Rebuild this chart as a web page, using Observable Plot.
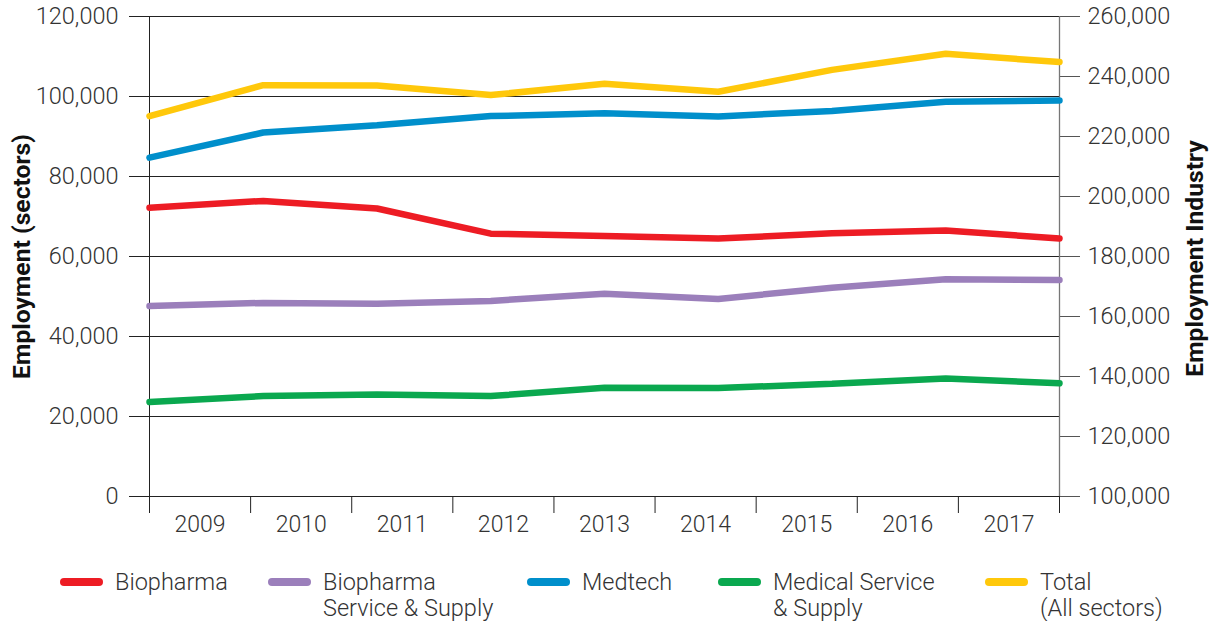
<!DOCTYPE html>
<html>
<head>
<meta charset="utf-8">
<script src="https://cdn.jsdelivr.net/npm/d3@7"></script>
<script src="https://cdn.jsdelivr.net/npm/@observablehq/plot@0.6"></script>
<style>
  body { margin: 0; background: #fff; font-family: Roboto, "Liberation Sans", sans-serif; }
  #chart { position: relative; width: 1212px; }
  #legend { position: relative; width: 1212px; height: 81px; }
  .item { position: absolute; top: 29px; display: flex; align-items: flex-start; }
  .sw { width: 43px; height: 8px; border-radius: 4px; margin-top: 9px; margin-right: 12px; }
  .lab { font-size: 23.5px; font-weight: 300; color: #333; line-height: 26px; white-space: nowrap; }
</style>
</head>
<body>
<div id="chart"></div>
<div id="legend"></div>
<script>
const years = [2009, 2010, 2011, 2012, 2013, 2014, 2015, 2016, 2017];
const biopharma = [72200, 73900, 72000, 65700, 65100, 64500, 65800, 66500, 64500];
const biopharmaSS = [47600, 48400, 48200, 48900, 50700, 49400, 52200, 54300, 54100];
const medtech = [84700, 91000, 92800, 95100, 95800, 95000, 96400, 98700, 99000];
const medicalSS = [23600, 25100, 25500, 25100, 27200, 27100, 28200, 29500, 28300];
const total = [226800, 237100, 237000, 233800, 237600, 234900, 242200, 247600, 244800];

const seriesNames = ["Biopharma", "Biopharma\nService & Supply", "Medtech", "Medical Service\n& Supply", "Total\n(All sectors)"];
const seriesColors = ["#ed1c24", "#9b7fbb", "#008fcb", "#0aa84f", "#ffc80b"];
const leftTicks = [0, 20000, 40000, 60000, 80000, 100000, 120000];
const rightTicks = [100000, 120000, 140000, 160000, 180000, 200000, 220000, 240000, 260000];

// right axis (industry) mapped onto left scale
const rToL = v => (v - 100000) * 0.75;

const sectorRows = [];
[biopharma, biopharmaSS, medtech, medicalSS].forEach((arr, s) => {
  arr.forEach((v, i) => sectorRows.push({series: seriesNames[s], year: years[i], value: v}));
});
const totalRows = total.map((v, i) => ({series: seriesNames[4], year: years[i], value: rToL(v)}));
const rows = sectorRows.concat(totalRows);

// category band layout for x labels (9 bands spanning the same width as the line points)
const n = years.length;
const bandW = (years[n - 1] - years[0]) / n;
const edges = d3.range(n + 1).map(i => years[0] + i * bandW);
const labelRows = years.map((y, i) => ({pos: years[0] + (i + 0.5) * bandW, label: String(y)}));

const fmt = d3.format(",");
const font = "Roboto, 'Liberation Sans', sans-serif";

const chart = Plot.plot({
  width: 1212,
  height: 540,
  marginTop: 16,
  marginBottom: 44,
  marginLeft: 149,
  marginRight: 153,
  style: {fontFamily: font, fontSize: "23.5px", color: "#333", background: "#fff"},
  x: {type: "linear", domain: [years[0], years[n - 1]], axis: null},
  y: {type: "linear", domain: [0, 120000], axis: null},
  color: {domain: seriesNames, range: seriesColors},
  marks: [
    Plot.ruleY(leftTicks, {y: d => d, stroke: "#222", strokeWidth: 1}),
    Plot.axisY(leftTicks, {anchor: "left", tickSize: 20, tickPadding: 11, tickFormat: fmt, stroke: "#222", fill: "#333", fontWeight: 300, fontSize: 23.5, label: null}),
    Plot.axisY(rightTicks.map(rToL), {anchor: "right", tickSize: 20, tickPadding: 8, tickFormat: d => fmt(Math.round(d / 0.75 + 100000)), stroke: "#555", fill: "#333", fontWeight: 300, fontSize: 23.5, label: null}),
    Plot.ruleX([years[0]], {y1: 0, y2: 120000, stroke: "#222", strokeWidth: 1}),
    Plot.ruleX([years[n - 1]], {y1: 0, y2: 120000, stroke: "#777", strokeWidth: 1.3}),
    Plot.axisX(edges, {anchor: "bottom", tickSize: 17, tickFormat: () => "", stroke: "#222", label: null}),
    Plot.text(labelRows, {x: "pos", y: 0, dy: 28, text: "label", fill: "#333", fontWeight: 300, fontSize: 23}),
    Plot.line(rows, {x: "year", y: "value", z: "series", stroke: "series", strokeWidth: 6.5, strokeLinejoin: "miter", strokeLinecap: "round"}),
    Plot.text([0], {frameAnchor: "left", dx: -127, dy: 0, rotate: -90, text: () => "Employment (sectors)", fontWeight: "bold", fontSize: 24.7, fill: "#111", textAnchor: "middle"}),
    Plot.text([0], {frameAnchor: "right", dx: 136, dy: 2, rotate: -90, text: () => "Employment Industry", fontWeight: "bold", fontSize: 24.7, fill: "#111", textAnchor: "middle"})
  ]
});
document.getElementById("chart").appendChild(chart);

const legendLeft = [60, 268, 527, 718, 985];
const legend = document.getElementById("legend");
seriesNames.forEach((name, i) => {
  const item = document.createElement("div");
  item.className = "item";
  item.style.left = legendLeft[i] + "px";
  const sw = document.createElement("div");
  sw.className = "sw";
  sw.style.background = seriesColors[i];
  const lab = document.createElement("div");
  lab.className = "lab";
  lab.innerHTML = name.split("\n").join("<br>");
  item.appendChild(sw);
  item.appendChild(lab);
  legend.appendChild(item);
});
</script>
</body>
</html>
